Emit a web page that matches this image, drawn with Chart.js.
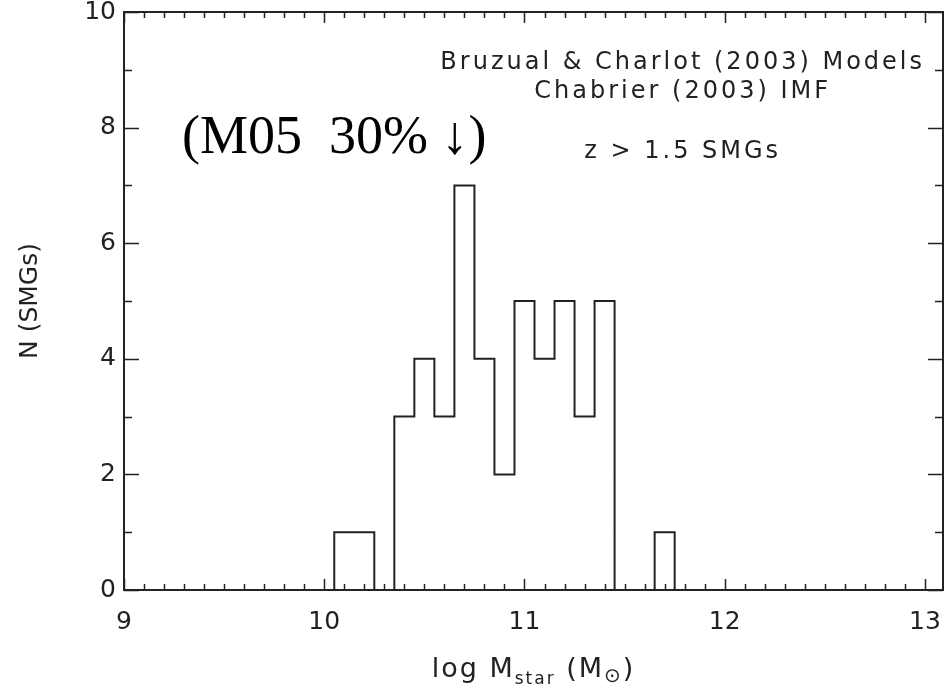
<!DOCTYPE html>
<html>
<head>
<meta charset="utf-8">
<script src="https://cdn.jsdelivr.net/npm/chart.js@4/dist/chart.umd.min.js"></script>
<style>
  html, body { margin: 0; padding: 0; background: #fff; }
</style>
</head>
<body>
<canvas id="chart" width="946" height="691"></canvas>
<script>
// histogram of stellar masses, bins 0.1 dex wide
var binCenters = [10.1, 10.2, 10.3, 10.4, 10.5, 10.6, 10.7, 10.8, 10.9, 11.0, 11.1, 11.2, 11.3, 11.4, 11.5, 11.6, 11.7];
var counts = [1, 1, 0, 3, 4, 3, 7, 4, 2, 5, 4, 5, 3, 5, 0, 0, 1];
var binWidth = 0.1;

var xTickLabels = [9, 10, 11, 12, 13];
var yTickLabels = [0, 2, 4, 6, 8, 10];
var xMinorStep = 0.1;
var yMinorStep = 1;

var notes = ['Bruzual & Charlot (2003) Models', 'Chabrier (2003) IMF', 'z > 1.5 SMGs'];
var m05Label = '(M05  30% \u2193)';

var ink = '#222';

// step outline: points at left bin edges, closed down to zero at both ends
var histPoints = [{ x: binCenters[0] - binWidth / 2, y: 0 }];
for (var i = 0; i < binCenters.length; i++) {
    histPoints.push({ x: binCenters[i] - binWidth / 2, y: counts[i] });
}
histPoints.push({ x: binCenters[binCenters.length - 1] + binWidth / 2, y: 0 });

var frame = {
    id: 'frame',
    afterDatasetsDraw: function (chart) {
        var ctx = chart.ctx;
        var a = chart.chartArea;
        var xs = chart.scales.x;
        var ys = chart.scales.y;
        ctx.save();
        ctx.strokeStyle = ink;
        ctx.lineWidth = 2;
        ctx.strokeRect(a.left, a.top, a.right - a.left, a.bottom - a.top);

        // inward ticks on all four sides
        ctx.lineWidth = 1.5;
        ctx.beginPath();
        var x0 = xTickLabels[0], x1 = xTickLabels[xTickLabels.length - 1];
        var nx = Math.round((x1 - x0) / xMinorStep);
        for (var k = 0; k <= nx; k++) {
            var px = Math.round(xs.getPixelForValue(x0 + k * xMinorStep)) + 0.5;
            var len = (k % 10 === 0) ? 11 : 6;
            ctx.moveTo(px, a.bottom); ctx.lineTo(px, a.bottom - len);
            ctx.moveTo(px, a.top); ctx.lineTo(px, a.top + len);
        }
        var y0 = yTickLabels[0], y1 = yTickLabels[yTickLabels.length - 1];
        var ny = Math.round((y1 - y0) / yMinorStep);
        for (var j = 0; j <= ny; j++) {
            var py = Math.round(ys.getPixelForValue(y0 + j * yMinorStep)) + 0.5;
            var l = (j % 2 === 0) ? 15 : 8;
            ctx.moveTo(a.left, py); ctx.lineTo(a.left + l, py);
            ctx.moveTo(a.right, py); ctx.lineTo(a.right - l, py);
        }
        ctx.stroke();

        // labels in the upper right
        ctx.fillStyle = ink;
        ctx.textAlign = 'center';
        ctx.textBaseline = 'alphabetic';
        ctx.font = '24px "DejaVu Sans"';
        ctx.letterSpacing = '3px';
        var cx = xs.getPixelForValue(11.79);
        ctx.fillText(notes[0], cx, ys.getPixelForValue(9.01));
        ctx.fillText(notes[1], cx, ys.getPixelForValue(8.51));
        ctx.fillText(notes[2], cx, ys.getPixelForValue(7.47));

        // x axis title with subscripts
        var big = '27px "DejaVu Sans"', small = '17px "DejaVu Sans"', sun = '20px "DejaVu Sans"';
        ctx.letterSpacing = '2px';
        var parts = [['log M', big, 0], ['star', small, 7], [' (M', big, 0], ['\u2299', sun, 5], [')', big, 0]];
        var total = 0;
        parts.forEach(function (p) { ctx.font = p[1]; total += ctx.measureText(p[0]).width; });
        var tx = (a.left + a.right) / 2 - total / 2;
        var base = 677;
        ctx.textAlign = 'left';
        parts.forEach(function (p) {
            ctx.font = p[1];
            ctx.fillText(p[0], tx, base + p[2]);
            tx += ctx.measureText(p[0]).width;
        });
        ctx.letterSpacing = '0px';

        ctx.font = '54px "Liberation Serif"';
        ctx.fillStyle = '#000';
        ctx.fillText(m05Label, xs.getPixelForValue(9.29), ys.getPixelForValue(7.56));
        ctx.restore();
    }
};

var ctx = document.getElementById('chart').getContext('2d');
var chart = new Chart(ctx, {
    type: 'line',
    data: {
        datasets: [{
            data: histPoints,
            stepped: 'before',
            borderColor: ink,
            borderWidth: 2,
            pointRadius: 0,
            fill: false,
            clip: 4
        }]
    },
    options: {
        responsive: false,
        animation: false,
        layout: { padding: { left: 0, right: 3, top: 12, bottom: 0 } },
        plugins: { legend: { display: false }, tooltip: { enabled: false } },
        scales: {
            x: {
                type: 'linear',
                min: 9,
                max: 13.09,
                grid: { display: false, drawTicks: false },
                border: { display: false },
                afterBuildTicks: function (scale) {
                    scale.ticks = xTickLabels.map(function (v) { return { value: v }; });
                },
                afterFit: function (scale) {
                    scale.height = 101;
                    scale.paddingLeft = 0;
                    scale.paddingRight = 0;
                },
                ticks: {
                    padding: 17,
                    color: ink,
                    maxRotation: 0,
                    font: { family: 'DejaVu Sans', size: 25 }
                }
            },
            y: {
                type: 'linear',
                min: 0,
                max: 10,
                grid: { display: false, drawTicks: false },
                border: { display: false },
                afterBuildTicks: function (scale) {
                    scale.ticks = yTickLabels.map(function (v) { return { value: v }; });
                },
                afterFit: function (scale) {
                    scale.width = 124;
                    scale.paddingTop = 0;
                    scale.paddingBottom = 0;
                },
                ticks: {
                    padding: 8,
                    color: ink,
                    font: { family: 'DejaVu Sans', size: 25 }
                },
                title: {
                    display: true,
                    text: 'N (SMGs)',
                    color: ink,
                    padding: { top: 15, bottom: 0 },
                    font: { family: 'DejaVu Sans', size: 25 }
                }
            }
        }
    },
    plugins: [frame]
});
</script>
</body>
</html>
